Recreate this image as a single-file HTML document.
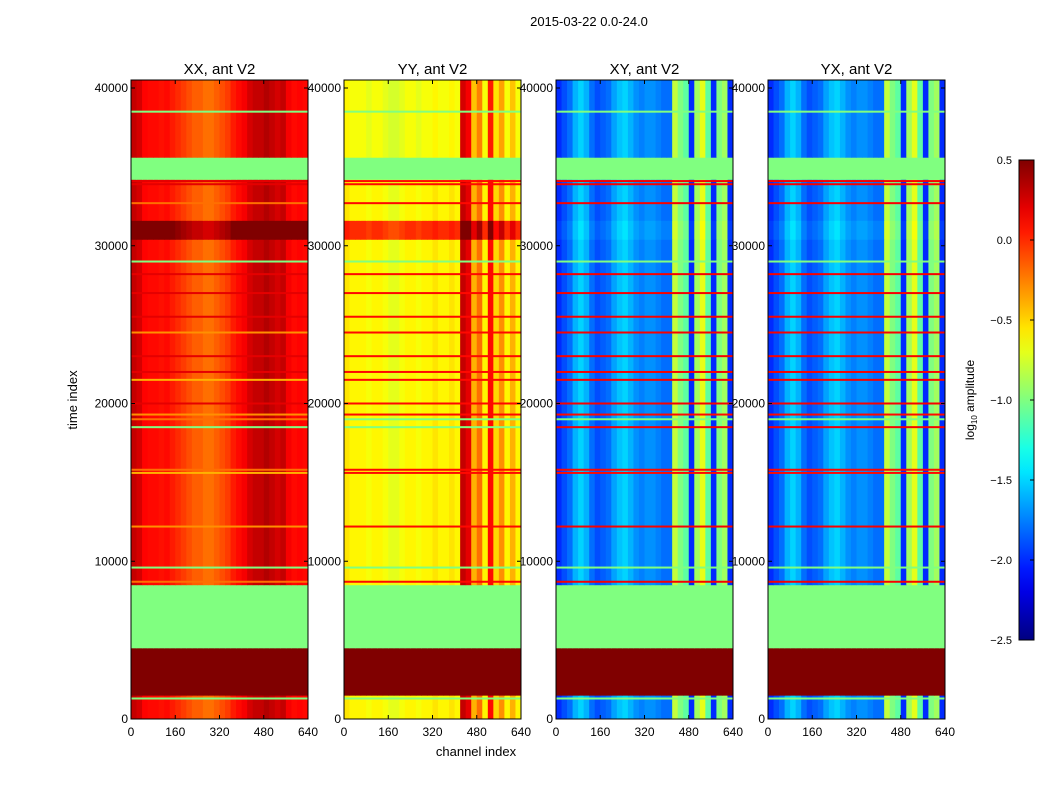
<!DOCTYPE html>
<html><head><meta charset="utf-8">
<style>
body{margin:0;background:#fff;}
svg text{font-family:"Liberation Sans",sans-serif;}
</style></head>
<body>
<svg id="fig" width="1050" height="800" xmlns="http://www.w3.org/2000/svg">
<text x="589" y="26" font-size="13" text-anchor="middle">2015-03-22 0.0-24.0</text>
<text transform="translate(77,400) rotate(-90)" font-size="13" text-anchor="middle">time index</text>
<text x="476" y="756" font-size="13" text-anchor="middle">channel index</text>
<defs><linearGradient id="jetg" x1="0" y1="1" x2="0" y2="0"></linearGradient></defs>
</svg>
<script>
// ---- data ----
const panelTitles = ["XX, ant V2","YY, ant V2","XY, ant V2","YX, ant V2"];
const xTicks = [0,160,320,480,640];
const yTicks = [0,10000,20000,30000,40000];
const cbTicks = [0.5,0.0,-0.5,-1.0,-1.5,-2.0,-2.5];
// channel profiles, 32 bins of 20 channels (log10 amplitude)
const profXX = [0.3,0.25,0.12,0.1,0.1,0.08,0.1,0.05,0.0,-0.05,-0.1,-0.15,-0.15,-0.2,-0.2,-0.15,-0.1,-0.05,0.05,0.1,0.15,0.25,0.3,0.3,0.35,0.3,0.25,0.3,0.15,0.1,0.12,0.1];
const profYY = [-0.55,-0.6,-0.6,-0.6,-0.65,-0.6,-0.6,-0.65,-0.7,-0.7,-0.65,-0.6,-0.6,-0.65,-0.6,-0.6,-0.55,-0.6,-0.6,-0.55,-0.6,0.3,0.2,-0.4,-0.2,-0.6,0.1,-0.5,-0.3,-0.6,-0.4,-0.6];
const profXY = [-2.0,-1.9,-1.8,-1.6,-1.5,-1.6,-1.8,-1.9,-1.85,-1.8,-1.65,-1.55,-1.5,-1.6,-1.7,-1.75,-1.7,-1.7,-1.75,-1.8,-1.8,-0.8,-1.0,-1.1,-2.0,-0.9,-0.7,-1.1,-2.0,-1.0,-0.9,-2.0];
// time bands: start, end, kind (0 normal offset, 1 flagged value), value
const bandStart = [0,1500,4500,8500,30400,31600,34200,35600];
const bandEnd   = [1500,4500,8500,30400,31600,34200,35600,40500];
const bandKind  = [0,1,1,0,0,0,1,0];
const bandValXX = [0,0.6,-1.0,0,0.45,0,-1.0,0];
const bandValYY = [0,0.6,-1.0,0,0.6,0,-1.0,-0.05];
const bandValXY = [0,0.6,-1.0,0,0.05,0,-1.0,0];
// horizontal flagged lines
const lineTimes = [38500,34100,33900,32700,29000,28200,27000,25500,24500,23000,22000,21500,20000,19300,19000,18500,15800,15600,12200,9600,8700,1300];
const lineValXX = [-1.0,0.2,0.2,-0.2,-1.0,0.2,0.2,0.2,-0.3,0.2,0.2,-0.4,0.2,-0.3,-0.2,-1.0,-0.2,-0.4,-0.3,-1.0,-0.2,-1.0];
const lineValYY = [-1.0,0.1,0.1,0.1,-1.0,0.1,0.1,0.1,0.1,0.1,0.1,0.1,0.1,0.1,-1.0,-1.0,0.1,0.1,0.1,-1.0,0.1,-1.0];
const lineValXY = [-1.0,0.15,0.15,0.15,-1.0,0.15,0.15,0.15,0.15,0.15,0.15,0.15,0.15,0.1,-1.0,0.15,0.1,0.1,0.15,-1.0,0.15,-1.0];

const svg = document.getElementById('fig');
const NS = "http://www.w3.org/2000/svg";
function jet(v){
  let t = (v+2.5)/3; t=Math.max(0,Math.min(1,t));
  const f=x=>Math.max(0,Math.min(1,x));
  const r=f(1.5-Math.abs(4*t-3)), g=f(1.5-Math.abs(4*t-2)), b=f(1.5-Math.abs(4*t-1));
  return `rgb(${Math.round(r*255)},${Math.round(g*255)},${Math.round(b*255)})`;
}
function mk(tag, attrs, parent){const e=document.createElementNS(NS,tag);for(const k in attrs)e.setAttribute(k,attrs[k]);(parent||svg).appendChild(e);return e;}

const panelX = [131,344,556,768], pw = 177, pTop = 80, pBot = 719;
const yScale = t => 719 - t*(631/40000);
const profiles = [profXX, profYY, profXY, profXY];
const bandVals = [bandValXX, bandValYY, bandValXY, bandValXY];
const lineVals = [lineValXX, lineValYY, lineValXY, lineValXY];

panelTitles.forEach((title,p)=>{
  const x0 = panelX[p];
  const xScale = c => x0 + c*(pw/640);
  const g = mk('g',{});
  
  
  const prof = profiles[p];
  for(let b=0;b<bandStart.length;b++){
    const y1 = Math.max(pTop, yScale(bandEnd[b])), y2 = yScale(bandStart[b]);
    for(let c=0;c<prof.length;c++){
      const v = bandKind[b] ? bandVals[p][b] : prof[c]+bandVals[p][b];
      const r = mk('rect',{x:xScale(c*20),y:y1,width:xScale((c+1)*20)-xScale(c*20)+0.5,height:y2-y1+0.3,fill:jet(v)},g);
      
      
    }
  }
  lineTimes.forEach((t,i)=>{
    const l = mk('rect',{x:x0,y:yScale(t)-1,width:pw,height:2,fill:jet(lineVals[p][i])},g);
    
    
  });
  const fr = mk('rect',{x:x0,y:pTop,width:pw,height:pBot-pTop,fill:'none',stroke:'#000','stroke-width':1});
  
  
  const tt = mk('text',{x:x0+pw/2,y:74,'font-size':15,'text-anchor':'middle'});
  tt.textContent = title;
  
  
  xTicks.forEach(v=>{
    const x = xScale(v);
    mk('line',{x1:x,x2:x,y1:pBot,y2:pBot-4,stroke:'#000'});
    mk('line',{x1:x,x2:x,y1:pTop,y2:pTop+4,stroke:'#000'});
    const t = mk('text',{x:x,y:pBot+17,'font-size':12,'text-anchor':'middle'});
    t.textContent = v;
    
    
  });
  yTicks.forEach(v=>{
    const y = yScale(v);
    mk('line',{x1:x0,x2:x0+4,y1:y,y2:y,stroke:'#000'});
    mk('line',{x1:x0+pw,x2:x0+pw-4,y1:y,y2:y,stroke:'#000'});
    const t = mk('text',{x:x0-3,y:y+4,'font-size':12,'text-anchor':'end'});
    t.textContent = v;
    
    
  });
});

// colorbar
const grad = document.getElementById('jetg');
for(let i=0;i<=20;i++){ mk('stop',{offset:(i/20),'stop-color':jet(-2.5+3*i/20)},grad); }
const cbTop=160, cbBot=640, cbX=1019, cbW=15;
const cb = mk('rect',{x:cbX,y:cbTop,width:cbW,height:cbBot-cbTop,fill:'url(#jetg)',stroke:'#000'});


const cbScale = v => cbBot - (v+2.5)/3*(cbBot-cbTop);
cbTicks.forEach(v=>{
  const y = cbScale(v);
  mk('line',{x1:cbX+cbW,x2:cbX+cbW-4,y1:y,y2:y,stroke:'#000'});
  const t = mk('text',{x:1012,y:y+4,'font-size':11,'text-anchor':'end'});
  t.textContent = v.toFixed(1).replace('-','\u2212');
  
  
});
const cl = mk('text',{transform:'translate(974,400) rotate(-90)','font-size':12,'text-anchor':'middle'});
cl.innerHTML = 'log<tspan font-size="8" dy="3">10</tspan><tspan dy="-3"> amplitude</tspan>';


</script>
</body></html>
